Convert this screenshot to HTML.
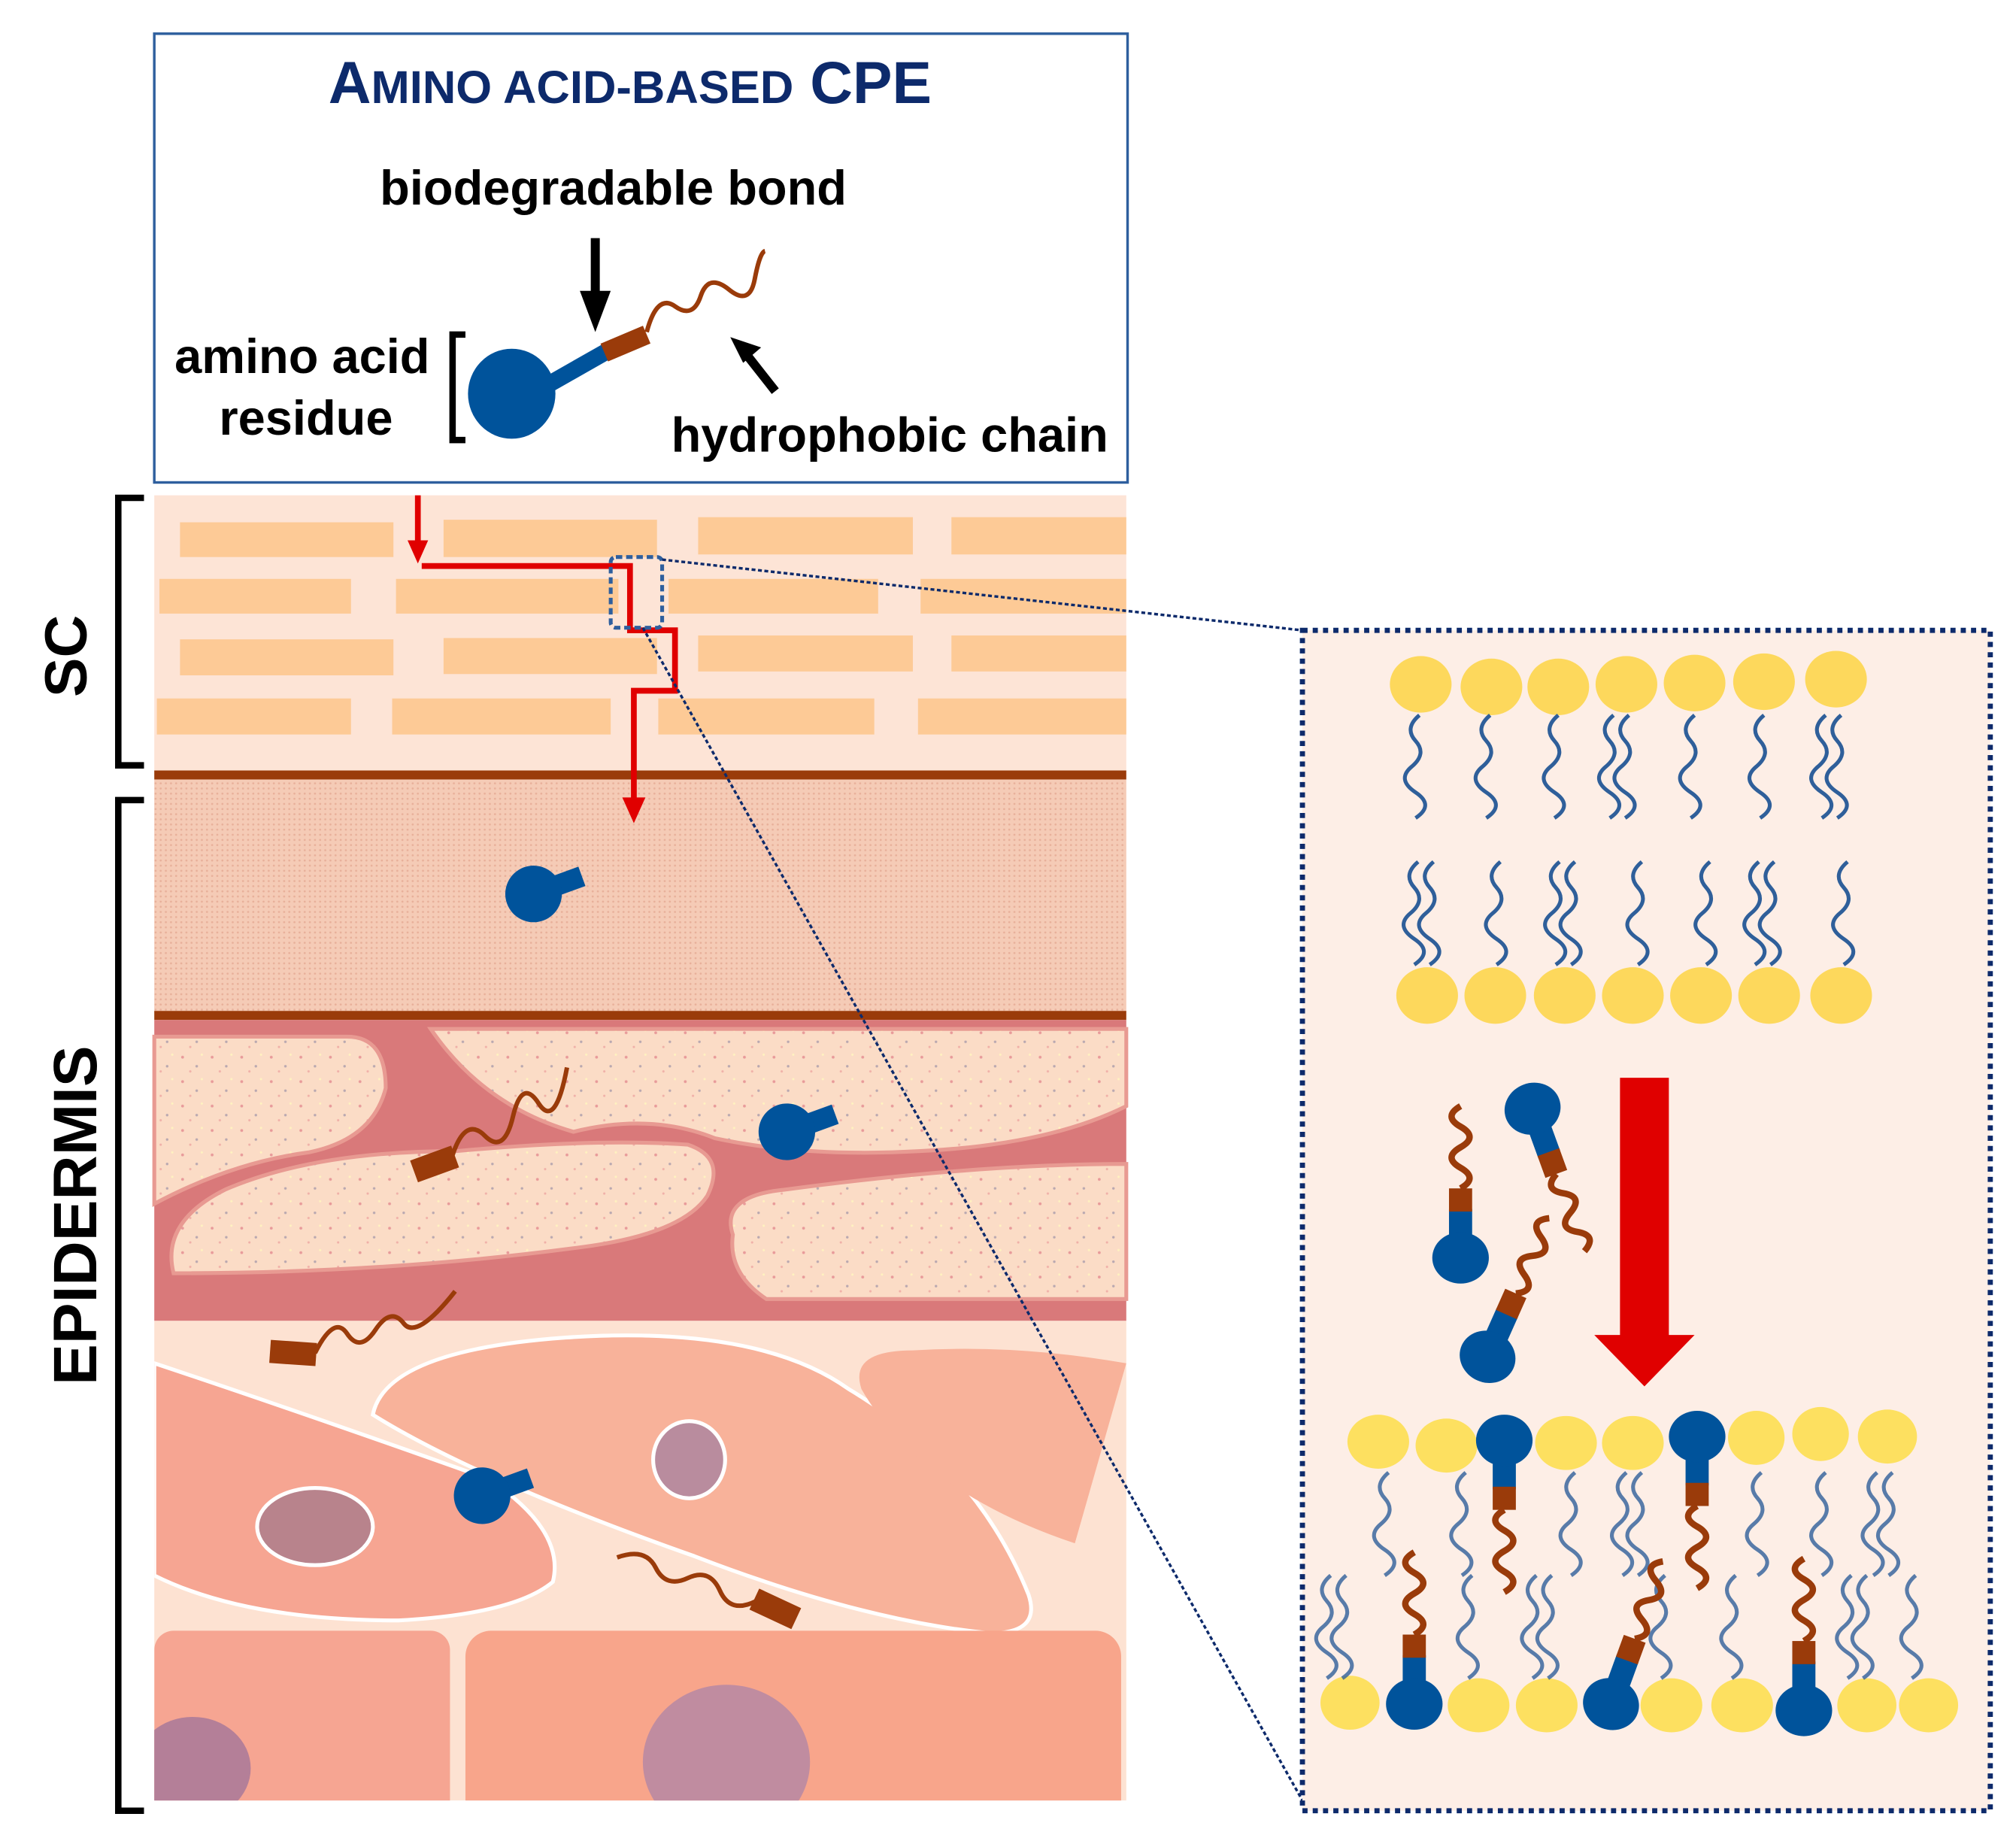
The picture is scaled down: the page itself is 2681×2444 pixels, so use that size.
<!DOCTYPE html>
<html><head><meta charset="utf-8"><style>
html,body{margin:0;padding:0;background:#fff}
svg{display:block}
text{font-family:"Liberation Sans",sans-serif;font-weight:bold}
</style></head><body>
<svg width="2681" height="2444" viewBox="0 0 1568 1429" xmlns="http://www.w3.org/2000/svg">
<defs>
<pattern id="dots" width="4" height="4" patternUnits="userSpaceOnUse"><rect width="4" height="4" fill="#f5cbb6"/><circle cx="1" cy="1" r="0.8" fill="#e8b09a"/></pattern>
<pattern id="spk" width="23" height="19" patternUnits="userSpaceOnUse"><rect width="23" height="19" fill="#fbdcc6"/><circle cx="4" cy="5" r="1.1" fill="#e89a9a"/><circle cx="15" cy="12" r="1" fill="#b9a8b0"/><circle cx="10" cy="16" r="0.9" fill="#f0b0a8"/><circle cx="19" cy="3" r="0.9" fill="#fff2c0"/></pattern>
<clipPath id="c4"><rect x="120" y="1027" width="756" height="373"/></clipPath>
<g id="fm"><path d="M0,54 q-14,8 0,16 t0,16 t0,16 t0,16" fill="none" stroke="#9a3b0a" stroke-width="5"/><rect x="-9" y="14" width="18" height="24" fill="#00539b"/><rect x="-9" y="36" width="18" height="18" fill="#9a3b0a"/><ellipse cx="0" cy="0" rx="22" ry="20" fill="#00539b"/></g>
<g id="hd"><rect x="-8" y="10" width="16" height="30" fill="#00539b"/><circle cx="0" cy="0" r="22" fill="#00539b"/></g>
<g id="tl"><path d="M0,0 q-12,10 -3,20 t-3,20 t3,20 t0,20" fill="none" stroke="#2f5f9a" stroke-width="3"/></g>
<g id="tl2"><use href="#tl"/><use href="#tl" x="12"/></g>
</defs>

<!-- top box -->
<rect x="120" y="26" width="757" height="349" fill="#fff" stroke="#2e5f9e" stroke-width="2"/>
<text x="490" y="80" text-anchor="middle" fill="#0d2a6b" font-size="46">A<tspan font-size="36">MINO ACID-BASED</tspan> CPE</text>
<text x="477" y="159" text-anchor="middle" font-size="38" fill="#000">biodegradable bond</text>
<text x="235" y="290" text-anchor="middle" font-size="38">amino acid</text>
<text x="238" y="338" text-anchor="middle" font-size="38">residue</text>
<text x="692" y="351" text-anchor="middle" font-size="38">hydrophobic chain</text>
<path d="M362,260 h-10 v82 h10" fill="none" stroke="#000" stroke-width="5"/>
<path d="M463,185 v45" stroke="#000" stroke-width="7"/><path d="M451,226 h24 l-12,32z" fill="#000"/>
<path d="M603,304 l-22,-28" stroke="#000" stroke-width="7"/><path d="M568,262 l24,8 l-14,12z" fill="#000"/>
<path d="M428,298 L472,273" stroke="#00539b" stroke-width="13"/>
<path d="M470,274 L503,260" stroke="#9a3b0a" stroke-width="15"/>
<path d="M503,258 q8,-30 22,-20 t20,-8 t22,-5 t20,-8 t8,-22" fill="none" stroke="#9a3b0a" stroke-width="3.5"/>
<ellipse cx="398" cy="306" rx="34" ry="35" fill="#00539b"/>

<!-- SC -->
<rect x="120" y="385" width="756" height="215" fill="#fde4d6"/>
<g fill="#fdca96">
<rect x="140" y="406" width="166" height="27"/><rect x="345" y="404" width="166" height="29"/><rect x="543" y="402" width="167" height="29"/><rect x="740" y="402" width="136" height="29"/>
<rect x="124" y="450" width="149" height="27"/><rect x="308" y="450" width="173" height="27"/><rect x="520" y="450" width="163" height="27"/><rect x="716" y="450" width="160" height="27"/>
<rect x="140" y="497" width="166" height="28"/><rect x="345" y="496" width="166" height="28"/><rect x="543" y="494" width="167" height="28"/><rect x="740" y="494" width="136" height="28"/>
<rect x="122" y="543" width="151" height="28"/><rect x="305" y="543" width="170" height="28"/><rect x="512" y="543" width="168" height="28"/><rect x="714" y="543" width="162" height="28"/>
</g>
<rect x="120" y="599" width="756" height="7" fill="#9a3b0a"/>
<rect x="120" y="606" width="756" height="181" fill="url(#dots)"/>
<rect x="120" y="786" width="756" height="7" fill="#9a3b0a"/>
<!-- layer 3 -->
<rect x="120" y="793" width="756" height="234" fill="#d9797a"/>
<g fill="url(#spk)" stroke="#e89a92" stroke-width="3">
<path d="M120,806 h150 q30,0 30,40 q-10,40 -60,50 q-60,8 -120,40z"/>
<path d="M335,800 h541 v60 q-60,30 -160,35 q-90,5 -160,-10 q-50,-20 -110,-5 q-70,-20 -111,-80z"/>
<path d="M135,990 q-10,-40 40,-65 q70,-30 180,-30 q110,-10 180,-5 q30,10 15,40 q-20,30 -100,40 q-150,20 -315,20z"/>
<path d="M570,960 q-10,-30 40,-35 q150,-20 266,-20 v105 h-280 q-30,-20 -26,-50z"/>
</g>
<!-- layer 4 -->
<rect x="120" y="1027" width="756" height="373" fill="#fde2d2"/>
<g clip-path="url(#c4)">
<path d="M120,1060 q120,40 260,90 q60,40 50,80 q-30,25 -120,30 q-120,0 -190,-35z" fill="#f6a592" stroke="#fff" stroke-width="3"/>
<path d="M290,1100 q10,-50 150,-60 q150,-10 220,40 q100,60 140,160 q10,30 -30,30 q-100,-10 -230,-60 q-170,-60 -250,-110z" fill="#f8b29a" stroke="#fff" stroke-width="3"/>
<path d="M670,1080 q-10,-30 40,-30 q80,-5 166,10 l-40,140 q-120,-40 -166,-120z" fill="#f8b29a"/>
<rect x="120" y="1268" width="230" height="160" rx="15" fill="#f6a592"/>
<rect x="362" y="1268" width="510" height="160" rx="20" fill="#f8a58b"/>
<ellipse cx="245" cy="1187" rx="45" ry="30" fill="#b8838c" stroke="#fff" stroke-width="3"/>
<ellipse cx="536" cy="1135" rx="28" ry="30" fill="#b98c9e" stroke="#fff" stroke-width="3"/>
<ellipse cx="565" cy="1370" rx="65" ry="60" fill="#c08ca0"/>
<ellipse cx="150" cy="1375" rx="45" ry="40" fill="#b47f98"/>
</g>
<use href="#hd" transform="translate(415,695) rotate(-110)"/>
<use href="#hd" transform="translate(612,880) rotate(-110)"/>
<use href="#hd" transform="translate(375,1163) rotate(-110)"/>
<g fill="#9a3b0a"><rect x="-17" y="-9" width="34" height="18" transform="translate(338,905) rotate(-20)"/><rect x="-18" y="-9" width="36" height="18" transform="translate(228,1052) rotate(4)"/><rect x="-18" y="-9" width="36" height="18" transform="translate(603,1251) rotate(25)"/></g>
<g fill="none" stroke="#9a3b0a" stroke-width="3.5">
<path d="M352,898 q10,-30 25,-15 t22,-15 t20,-10 t22,-28"/>
<path d="M245,1052 q15,-30 25,-15 t22,-3 t22,-5 t40,-25"/>
<path d="M588,1245 q-20,10 -28,-8 t-25,-10 t-25,-8 t-30,-8"/>
</g>

<!-- brackets & labels -->
<path d="M112,387 h-20 v208 h20" fill="none" stroke="#000" stroke-width="5"/>
<path d="M112,622 h-20 v786 h20" fill="none" stroke="#000" stroke-width="5"/>
<text transform="translate(67,510) rotate(-90)" text-anchor="middle" font-size="46">SC</text>
<text transform="translate(75,945) rotate(-90)" text-anchor="middle" font-size="48">EPIDERMIS</text>

<!-- red path -->
<path d="M325,385 V425 M328,440 H490 V490 H525 V537 H493 V625" fill="none" stroke="#e00000" stroke-width="4.5"/>
<path d="M317,420 h16 l-8,18z M484,620 h18 l-9,20z" fill="#e00000"/>
<rect x="475" y="433" width="40" height="55" rx="4" fill="none" stroke="#2e5f9e" stroke-width="3" stroke-dasharray="5,3"/>
<path d="M515,435 L1013,490 M500,488 L1013,1400" stroke="#0d2a6b" stroke-width="2" stroke-dasharray="3,2" fill="none"/>

<!-- zoom box -->
<rect x="1013" y="490" width="535" height="918" fill="#fdeee6" stroke="#0d2a6b" stroke-width="4" stroke-dasharray="4,4"/>
<g fill="#fdd85c">
<ellipse cx="1105" cy="532" rx="24" ry="22"/><ellipse cx="1160" cy="534" rx="24" ry="22"/><ellipse cx="1212" cy="534" rx="24" ry="22"/><ellipse cx="1265" cy="532" rx="24" ry="22"/><ellipse cx="1318" cy="531" rx="24" ry="22"/><ellipse cx="1372" cy="530" rx="24" ry="22"/><ellipse cx="1428" cy="528" rx="24" ry="22"/>
<ellipse cx="1110" cy="774" rx="24" ry="22"/><ellipse cx="1163" cy="774" rx="24" ry="22"/><ellipse cx="1217" cy="774" rx="24" ry="22"/><ellipse cx="1270" cy="774" rx="24" ry="22"/><ellipse cx="1323" cy="774" rx="24" ry="22"/><ellipse cx="1376" cy="774" rx="24" ry="22"/><ellipse cx="1432" cy="774" rx="24" ry="22"/>
</g>
<use href="#tl" x="1104" y="556"/><use href="#tl" x="1159" y="556"/><use href="#tl" x="1212" y="556"/><use href="#tl2" x="1255" y="556"/><use href="#tl" x="1318" y="556"/><use href="#tl" x="1372" y="556"/><use href="#tl2" x="1420" y="556"/>
<use href="#tl2" x="1103" y="670"/><use href="#tl" x="1167" y="670"/><use href="#tl2" x="1213" y="670"/><use href="#tl" x="1277" y="670"/><use href="#tl" x="1330" y="670"/><use href="#tl2" x="1368" y="670"/><use href="#tl" x="1437" y="670"/>
<path d="M1260,838 h38 v200 h20 l-39,40 l-39,-40 h20z" fill="#e00000"/>
<use href="#fm" transform="translate(1136,978) rotate(180)"/>
<use href="#fm" transform="translate(1192,862) rotate(-20)"/>
<use href="#fm" transform="translate(1157,1055) rotate(-156)"/>
<g fill="#fde060">
<ellipse cx="1072" cy="1121" rx="24" ry="21"/><ellipse cx="1125" cy="1124" rx="24" ry="21"/><ellipse cx="1218" cy="1122" rx="24" ry="21"/><ellipse cx="1270" cy="1122" rx="24" ry="21"/><ellipse cx="1366" cy="1118" rx="22" ry="21"/><ellipse cx="1416" cy="1115" rx="22" ry="21"/><ellipse cx="1468" cy="1117" rx="23" ry="21"/>
<ellipse cx="1050" cy="1324" rx="23" ry="21"/><ellipse cx="1150" cy="1326" rx="24" ry="21"/><ellipse cx="1203" cy="1326" rx="24" ry="21"/><ellipse cx="1300" cy="1326" rx="24" ry="21"/><ellipse cx="1355" cy="1326" rx="24" ry="21"/><ellipse cx="1452" cy="1326" rx="23" ry="21"/><ellipse cx="1500" cy="1326" rx="23" ry="21"/>
</g>
<g opacity="0.8">
<use href="#tl" x="1080" y="1145"/><use href="#tl" x="1140" y="1145"/><use href="#tl" x="1225" y="1145"/><use href="#tl2" x="1265" y="1145"/><use href="#tl" x="1370" y="1145"/><use href="#tl" x="1420" y="1145"/><use href="#tl2" x="1460" y="1145"/>
<use href="#tl2" x="1035" y="1225"/><use href="#tl" x="1145" y="1225"/><use href="#tl2" x="1195" y="1225"/><use href="#tl" x="1295" y="1225"/><use href="#tl" x="1350" y="1225"/><use href="#tl2" x="1440" y="1225"/><use href="#tl" x="1490" y="1225"/>
</g>
<use href="#fm" transform="translate(1170,1120)"/>
<use href="#fm" transform="translate(1320,1117)"/>
<use href="#fm" transform="translate(1100,1325) rotate(180)"/>
<use href="#fm" transform="translate(1253,1325) rotate(-160)"/>
<use href="#fm" transform="translate(1403,1330) rotate(180)"/>
</svg>
</body></html>
